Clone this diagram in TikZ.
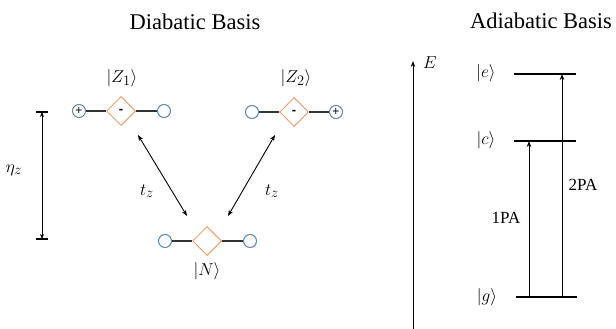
\documentclass[tikz,border=0pt]{standalone}
\usepackage{fontspec}
\setmainfont{Liberation Serif}
\setsansfont{Liberation Sans}
\usetikzlibrary{arrows.meta,shapes.geometric}
\definecolor{cblue}{HTML}{5A87B5}
\definecolor{dorange}{HTML}{F0A06C}
\definecolor{lnk}{HTML}{333333}
\tikzset{
  site/.style={circle,draw=cblue,line width=1pt,minimum size=13pt,inner sep=0pt,fill=white,font=\sffamily\fontsize{12}{12}\selectfont},
  dia/.style={diamond,draw=dorange,line width=1pt,minimum size=29pt,inner sep=0pt,fill=white,font=\sffamily\bfseries\fontsize{13}{13}\selectfont},
  bond/.style={draw=lnk,line width=1.8pt},
  ket/.style={font=\fontsize{19}{21}\selectfont},
  title/.style={font=\fontsize{22.5}{24}\selectfont},
  pa/.style={font=\fontsize{17}{18}\selectfont},
  dbl/.style={line width=0.9pt,{Stealth[length=6pt,width=4.5pt]}-{Stealth[length=6pt,width=4.5pt]}},
  lev/.style={line width=1.1pt},
  up/.style={line width=0.9pt,-{Stealth[length=6pt,width=4.5pt]}}
}
\begin{document}
\begin{tikzpicture}[x=1pt,y=-1pt]
\useasboundingbox (0,0) rectangle (616,329);
% titles
\node[title] (t1) at (195,22) {Diabatic Basis};
\node[title] (t2) at (541,21) {Adiabatic Basis};
% Z1
\node[site] (z1a) at (79,111) {+};
\node[dia] (z1d) at (121,111) {-};
\node[site] (z1b) at (164,111) {};
\draw[bond] (z1a) -- (z1d) (z1d) -- (z1b);
\node[ket] (z1l) at (122,78) {$|Z_1\rangle$};
% Z2
\node[site] (z2a) at (252,112) {};
\node[dia] (z2d) at (294,112) {-};
\node[site] (z2b) at (336,112) {+};
\draw[bond] (z2a) -- (z2d) (z2d) -- (z2b);
\node[ket] (z2l) at (296,78) {$|Z_2\rangle$};
% N
\node[site] (na) at (165,241) {};
\node[dia] (nd) at (207,241) {};
\node[site] (nb) at (250,241) {};
\draw[bond] (na) -- (nd) (nd) -- (nb);
\node[ket] (nl) at (207,271) {$|N\rangle$};
% couplings
\coordinate (a1) at (138,135);
\coordinate (a2) at (187,216);
\coordinate (b1) at (275,135);
\coordinate (b2) at (228,216);
\draw[dbl] (a1) -- (a2);
\draw[dbl] (b1) -- (b2);
\node[ket] (tz1) at (147,191) {$t_z$};
\node[ket] (tz2) at (272,191) {$t_z$};
% eta_z
\coordinate (et) at (42,112);
\coordinate (eb) at (42,239);
\draw[line width=1.2pt] ([xshift=-6pt]et) -- ([xshift=6pt]et);
\draw[line width=1.2pt] ([xshift=-6pt]eb) -- ([xshift=6pt]eb);
\draw[line width=0.8pt,{Stealth[length=5pt,width=4pt]}-{Stealth[length=5pt,width=4pt]}] (et) -- (eb);
\node[ket] (eta) at (14,170) {$\eta_z$};
% Energy axis
\coordinate (ebot) at (413,329);
\coordinate (etop) at (413,61);
\draw[line width=1pt,-{Stealth[length=6pt,width=4.5pt]}] (ebot) -- (etop);
\node[ket] (el) at (430,63) {$E$};
% levels
\coordinate (e1) at (514,74); \coordinate (e2) at (576,74);
\coordinate (c1) at (514,141); \coordinate (c2) at (576,141);
\coordinate (g1) at (516,297); \coordinate (g2) at (577,297);
\draw[lev] (e1) -- (e2);
\draw[lev] (c1) -- (c2);
\draw[lev] (g1) -- (g2);
\node[ket] (le) at (486,73) {$|e\rangle$};
\node[ket] (lc) at (486,140) {$|c\rangle$};
\node[ket] (lg) at (487,297) {$|g\rangle$};
% transitions
\coordinate (p1s) at (529,297); \coordinate (p1e) at (529,141);
\coordinate (p2s) at (562,297); \coordinate (p2e) at (562,74);
\draw[up] (p1s) -- (p1e);
\draw[up] (p2s) -- (p2e);
\node[pa] (l1) at (506,218) {1PA};
\node[pa] (l2) at (583,185) {2PA};
\end{tikzpicture}
\end{document}
